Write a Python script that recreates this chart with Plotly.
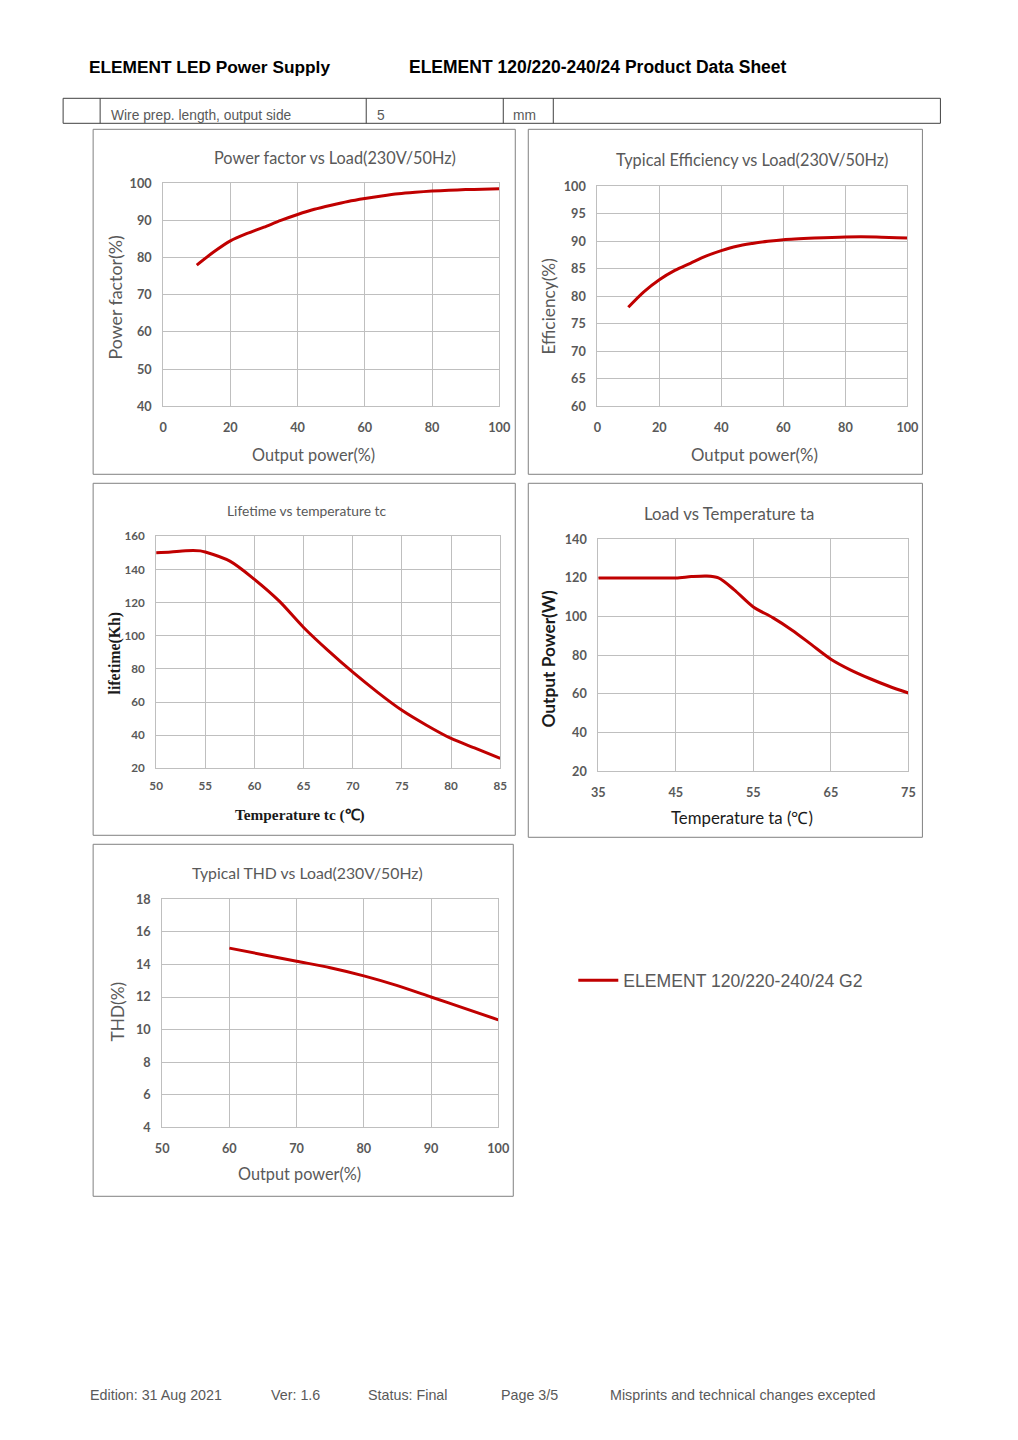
import plotly.graph_objects as go

W, H = 1018, 1440
# the photographed page comes out slightly shrunk and shifted; page coords
# below are the reference's, mapped back into figure pixels
SX, SY = 0.981, 0.9889
OX, OY = 14.9, 15.7

# data
pf_load = [10, 15, 20, 25, 30, 35, 40, 45, 50, 55, 60, 65, 70, 75, 80, 85, 90, 95, 100]
pf_value = [78, 81.5, 84.5, 86.5, 88.2, 90, 91.6, 93, 94.1, 95.1, 95.9, 96.6, 97.2, 97.6, 97.9, 98.1, 98.3, 98.4, 98.5]

eff_load = [10, 15, 20, 25, 30, 35, 40, 45, 50, 55, 60, 70, 80, 90, 100]
eff_value = [78, 80.8, 83, 84.7, 86, 87.3, 88.3, 89.1, 89.6, 90, 90.3, 90.6, 90.8, 90.8, 90.6]

life_tc = [50, 51.5, 53, 54.5, 55, 57.5, 60, 62.5, 65, 67.5, 70, 72.5, 75, 77.5, 80, 82.5, 85]
life_kh = [150, 150.5, 151.3, 151.2, 150.5, 145, 134, 121, 105, 91, 78, 66, 55, 46, 38, 32, 26]

load_ta = [35, 40, 45, 47, 49, 50.5, 52.5, 55, 57.5, 60, 62.5, 65, 67.5, 70, 72.5, 75]
load_w = [120, 120, 120, 120.7, 121, 120, 114, 105, 99.5, 93, 85.5, 78, 72.5, 68, 64, 60.5]

thd_load = [60, 65, 70, 75, 80, 85, 90, 95, 100]
thd_value = [15, 14.6, 14.2, 13.8, 13.3, 12.7, 12.0, 11.3, 10.6]

series_name = "ELEMENT 120/220-240/24 G2"

RED = "#C00000"
GRID = "#BFBFBF"
TXT = "#595959"
FONT = "Lato"


def px(x):
    return (x - OX) / SX / W


def py(y):
    return 1 - (y - OY) / SY / H


def fs(size):
    return round(size / SX, 1)


fig = go.Figure()

panels = [
    # x, y, plot box (left, top, right, bottom) in page pixels, axis ranges, dtick
    dict(x=pf_load, y=pf_value, box=(163, 182, 499, 405), xr=[0, 100], yr=[40, 100], xd=20, yd=10),
    dict(x=eff_load, y=eff_value, box=(597, 185, 907, 405), xr=[0, 100], yr=[60, 100], xd=20, yd=5),
    dict(x=life_tc, y=life_kh, box=(156, 535, 500, 767), xr=[50, 85], yr=[20, 160], xd=5, yd=20),
    dict(x=load_ta, y=load_w, box=(598, 538, 908, 770), xr=[35, 75], yr=[20, 140], xd=10, yd=20),
    dict(x=thd_load, y=thd_value, box=(162, 898, 498, 1126), xr=[50, 100], yr=[4, 18], xd=10, yd=2),
]

for i, p in enumerate(panels, start=1):
    sfx = "" if i == 1 else str(i)
    fig.add_trace(go.Scatter(
        x=p["x"], y=p["y"], mode="lines",
        line=dict(color=RED, width=3, shape="spline", smoothing=0.8),
        name=series_name, showlegend=(i == 1),
        xaxis="x" + sfx, yaxis="y" + sfx,
    ))
    l, t, r, b = p["box"]
    small = i == 3
    tick_font = dict(family=FONT, size=fs(11.5 if small else 12.5), color=TXT, weight="bold")
    fig.layout["xaxis" + sfx] = dict(
        domain=[px(l), px(r)], range=p["xr"], tick0=p["xr"][0], dtick=p["xd"], anchor="y" + sfx,
        showgrid=True, gridcolor=GRID, gridwidth=1, zeroline=False,
        showline=True, linecolor=GRID, mirror=True,
        tickfont=tick_font, ticks="", ticklabelstandoff=9 if not small else 7,
    )
    fig.layout["yaxis" + sfx] = dict(
        domain=[py(b), py(t)], range=p["yr"], tick0=p["yr"][0], dtick=p["yd"], anchor="x" + sfx,
        showgrid=True, gridcolor=GRID, gridwidth=1, zeroline=False,
        showline=True, linecolor=GRID, mirror=True,
        tickfont=tick_font, ticks="", ticklabelstandoff=8,
    )

annotations = []


def text(x, y, s, size, color=TXT, anchor="left", angle=0, family=FONT, weight="normal"):
    annotations.append(dict(
        x=px(x), y=py(y), xref="paper", yref="paper", text=s, showarrow=False,
        xanchor=anchor, yanchor="middle", textangle=angle,
        font=dict(family=family, size=fs(size), color=color, weight=weight),
    ))


# page header
text(87, 66, "ELEMENT LED Power Supply", 17, "#000000", family="Liberation Sans", weight="bold")
text(407, 66, "ELEMENT 120/220-240/24 Product Data Sheet", 17.2, "#000000", family="Liberation Sans", weight="bold")
text(109, 114, "Wire prep. length, output side", 13.5, TXT, family="Liberation Sans")
text(375, 114, "5", 13.5, TXT, family="Liberation Sans")
text(511, 114, "mm", 13.5, TXT, family="Liberation Sans")

# chart titles
text(335, 156, "Power factor vs Load(230V/50Hz)", 16, anchor="center")
text(752, 158, "Typical Efficiency vs Load(230V/50Hz)", 16, anchor="center")
text(306, 509, "Lifetime vs temperature tc", 13.5, anchor="center")
text(729, 512, "Load vs Temperature ta", 16.5, anchor="center")
text(307, 871, "Typical THD vs Load(230V/50Hz)", 15.5, anchor="center")

# axis titles
text(313, 453, "Output power(%)", 16, anchor="center")
text(115, 296, "Power factor(%)", 17.5, anchor="center", angle=-90)
text(754, 453, "Output power(%)", 16.5, anchor="center")
text(548, 305, "Efficiency(%)", 17, anchor="center", angle=-90)
text(300, 814, "Temperature tc (℃)", 15, "#1a1a1a", anchor="center", family="Liberation Serif", weight="bold")
text(115, 652, "lifetime(Kh)", 15.5, "#1a1a1a", anchor="center", angle=-90, family="Liberation Serif", weight="bold")
text(742, 816, "Temperature ta (℃)", 16.5, "#1a1a1a", anchor="center")
text(548, 657, "Output Power(W)", 17, "#1a1a1a", anchor="center", angle=-90, weight="bold")
text(299, 1172, "Output power(%)", 16, anchor="center")
text(117, 1010, "THD(%)", 17, anchor="center", angle=-90)

# footer
footer_items = [(88, "Edition: 31 Aug 2021"), (269, "Ver: 1.6"), (366, "Status: Final"),
                (499, "Page 3/5"), (608, "Misprints and technical changes excepted")]
for fx, s in footer_items:
    text(fx, 1394, s, 14, TXT, family="Liberation Sans")

shapes = []


def rect(l, t, r, b, color="#808080"):
    shapes.append(dict(type="rect", xref="paper", yref="paper",
                       x0=px(l), x1=px(r), y0=py(b), y1=py(t),
                       line=dict(color=color, width=1)))


def vline(x, t, b, color="#404040"):
    shapes.append(dict(type="line", xref="paper", yref="paper",
                       x0=px(x), x1=px(x), y0=py(b), y1=py(t),
                       line=dict(color=color, width=1)))


# table row
rect(63, 97, 940, 122, "#404040")
for vx in (100, 366, 503, 553):
    vline(vx, 97, 122)

# chart frames
rect(93, 128, 515, 473)
rect(528, 128, 922, 473)
rect(93, 482, 515, 834)
rect(528, 482, 922, 836)
rect(93, 843, 513, 1195)

fig.update_layout(
    width=W, height=H, autosize=False,
    margin=dict(l=0, r=0, t=0, b=0),
    paper_bgcolor="white", plot_bgcolor="white",
    annotations=annotations, shapes=shapes,
    showlegend=True,
    legend=dict(x=px(573), y=py(979), xanchor="left", yanchor="middle",
                font=dict(family="Liberation Sans", size=fs(17.3), color=TXT),
                bgcolor="rgba(0,0,0,0)", itemwidth=40),
)

fig.write_html("out.html")
